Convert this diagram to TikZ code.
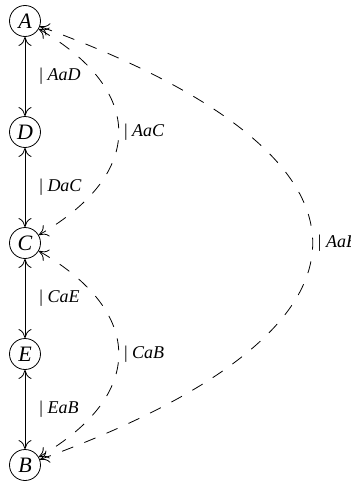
\documentclass[tikz,border=0pt]{standalone}
\usepackage{fontspec}
\setmainfont{Liberation Serif}
\usepackage{tikz}
\usetikzlibrary{arrows.meta,positioning}
\tikzset{node distance=55.5pt, auto}

\begin{document}
\begin{tikzpicture}[auto, node distance=55.5pt,
		vtx/.style={draw,circle,minimum size=15.5pt,inner sep=0pt,font=\fontsize{11}{12}\selectfont\itshape},
		lbl/.style={font=\fontsize{9}{10}\selectfont,inner sep=1pt},
		dsh/.style={dash pattern=on 6pt off 6pt},
		>={Computer Modern Rightarrow[length=4.5pt,width=6.5pt]}]
		\useasboundingbox (-12.5pt,10.5pt) rectangle (162.5pt,-230.5pt);
		\node(A)[vtx]{A};
		\node(D)[vtx,below of=A]{D};
		\node(C)[vtx,below of=D]{C};
		\node(E)[vtx,below of=C]{E};
		\node(B)[vtx,below of=E]{B};
		\draw[<->](A) to node[lbl,xshift=6pt]{| \textit{AaD}}(D);
		\draw[<->](D) to node[lbl,xshift=6pt]{| \textit{DaC}}(C);
		\draw[<->](C) to node[lbl,xshift=6pt]{| \textit{CaE}}(E);
		\draw[<->](E) to node[lbl,xshift=6pt]{| \textit{EaB}}(B);
		\draw[<->,dsh](A) to[out=-30,in=30,looseness=1.53] node[lbl,xshift=1.5pt]{| \textit{AaC}}(C);
		\draw[<->,dsh](C) to[out=-30,in=30,looseness=1.53] node[lbl,xshift=1.5pt]{| \textit{CaB}}(B);
		\draw[<->,dsh](A) to[out=-20,in=20,looseness=2.29] node[lbl,xshift=1.5pt]{| \textit{AaB}}(B);
	\end{tikzpicture}
\end{document}
